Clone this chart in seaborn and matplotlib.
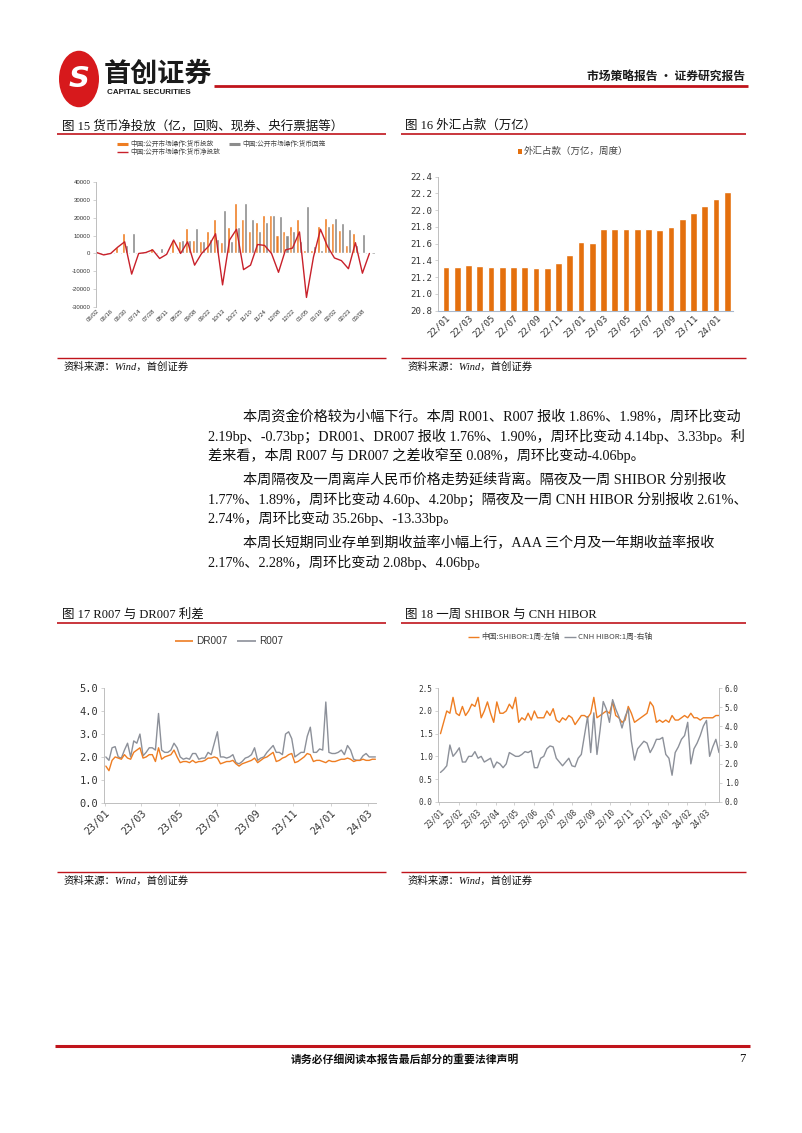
import numpy as np
import pandas as pd
import matplotlib
matplotlib.use('Agg')
import matplotlib.pyplot as plt
import matplotlib.dates as mdates
from matplotlib.patches import Circle, Rectangle
from matplotlib.lines import Line2D
import seaborn as sns

# ---------------- data ----------------
# Fig 15: weekly open market operations (亿)
omo_dates = ['06/02', '06/09', '06/16', '06/23', '06/30', '07/07', '07/14', '07/21', '07/28', '08/04',
             '08/11', '08/18', '08/25', '09/01', '09/08', '09/15', '09/22', '10/08', '10/13', '10/20',
             '10/27', '11/03', '11/10', '11/17', '11/24', '12/01', '12/08', '12/15', '12/22', '12/29',
             '01/05', '01/12', '01/19', '01/26', '02/02', '02/09', '02/23', '03/01', '03/08', '03/15']
omo_inject = [0, 0, 0, 3500, 11500, 0, 0, 500, 3000, 0,
              0, 7500, 7000, 14000, 7500, 7000, 12500, 19000, 6500, 14500,
              28000, 19000, 12500, 17500, 21500, 21500, 10500, 12500, 15500, 19000,
              2000, 2000, 15500, 19500, 17000, 13000, 5000, 11500, 0, 0]
omo_withdraw = [0, 500, 0, 0, 5000, 11500, 0, 0, 1000, 3000,
                500, 0, 7500, 7500, 14000, 7000, 8000, 8000, 24000, 7000,
                14500, 28000, 19000, 12500, 17500, 21500, 21000, 10500, 12500, 7000,
                26500, 4000, 2000, 15500, 19500, 17000, 13500, 5000, 11000, 500]
omo_net = [500, -800, 0, 3500, 6500, -11500, 0, 500, 2000, -2800,
           -500, 7500, 0, 6500, -6500, 0, 4000, 11000, -17500, 7500,
           13500, -9000, -6500, 5000, 4500, 0, -10500, 2000, 3000, 12000,
           -24500, -2000, 13500, 4000, -2500, -4000, -8500, 6000, -11000, 0]

# Fig 16: FX reserves position (万亿)
fx_months = ['22/01', '22/02', '22/03', '22/04', '22/05', '22/06', '22/07', '22/08', '22/09', '22/10',
             '22/11', '22/12', '23/01', '23/02', '23/03', '23/04', '23/05', '23/06', '23/07', '23/08',
             '23/09', '23/10', '23/11', '23/12', '24/01', '24/02']
fx_values = [21.32, 21.32, 21.35, 21.33, 21.32, 21.32, 21.32, 21.32, 21.31, 21.31,
             21.37, 21.46, 21.62, 21.61, 21.78, 21.78, 21.78, 21.77, 21.78, 21.76,
             21.80, 21.89, 21.97, 22.05, 22.13, 22.22]

# Fig 17: R007 / DR007 (%), sampled every 5 days from 2023-01-03
r007 = [2.0, 1.85, 2.4, 2.45, 2.0, 1.95, 2.3, 2.6, 2.0, 2.7,
        2.6, 3.0, 2.05, 2.2, 2.4, 2.4, 2.3, 3.9, 2.3, 2.2,
        2.2, 2.3, 2.6, 2.4, 2.0, 1.9, 1.95, 1.9, 2.15, 2.15,
        1.9, 1.95, 1.95, 2.2, 2.1, 2.6, 3.1, 2.0, 2.0, 1.95,
        2.0, 2.1, 1.75, 1.7, 1.8, 1.95, 2.0, 2.1, 2.4, 1.85,
        1.95, 2.0, 2.2, 2.35, 2.5, 2.2, 2.2, 2.1, 3.0, 3.1,
        2.8, 2.0, 2.1, 2.2, 2.2, 2.9, 3.3, 2.2, 2.2, 2.35,
        2.3, 4.4, 2.2, 2.15, 2.15, 2.2, 2.3, 2.1, 2.5, 2.3,
        1.9, 1.85, 1.85, 2.05, 2.15, 2.0, 2.0, 2.0]
dr007 = [1.6, 1.4, 1.85, 2.0, 1.95, 1.9, 2.1, 1.95, 1.9, 2.2,
         2.3, 2.4, 1.95, 2.0, 2.1, 2.1, 1.8, 2.4, 1.9, 2.0,
         2.05, 2.1, 2.3, 2.0, 1.75, 1.8, 1.8, 1.75, 1.85, 1.75,
         1.8, 1.8, 1.85, 1.95, 1.95, 2.0, 1.95, 1.7, 1.75, 1.8,
         1.8, 1.85, 1.7, 1.6, 1.7, 1.75, 1.8, 1.85, 1.95, 1.75,
         1.85, 1.95, 2.0, 2.1, 2.2, 1.8, 1.85, 1.95, 2.0, 2.1,
         2.15, 1.75, 1.8, 1.9, 2.0, 2.15, 2.1, 1.8, 1.85, 1.85,
         1.8, 1.75, 1.85, 1.8, 1.8, 1.85, 1.9, 1.9, 1.95, 1.9,
         1.8, 1.85, 1.85, 1.9, 1.85, 1.85, 1.9, 1.9]

# Fig 18: SHIBOR 1W (left) / CNH HIBOR 1W (right), every 5 days from 2023-01-03
shibor_1w = [1.5, 1.75, 2.0, 1.95, 2.3, 1.95, 1.9, 2.1, 1.9, 2.0,
             2.15, 2.1, 2.3, 1.85, 2.0, 2.2, 1.95, 1.75, 2.2, 1.95,
             1.95, 2.0, 2.15, 2.05, 2.3, 1.75, 1.85, 1.8, 1.95, 1.8,
             2.0, 1.85, 1.85, 1.85, 2.0, 1.9, 2.05, 1.8, 1.75, 1.85,
             1.8, 1.9, 1.85, 1.7, 1.8, 1.9, 1.9, 1.85, 1.95, 2.3,
             1.85, 1.9, 1.95, 2.0, 1.95, 2.2, 1.9, 1.85, 1.75, 1.8,
             2.1, 1.95, 1.75, 1.8, 1.85, 1.9, 1.95, 2.2, 2.1, 1.75,
             1.8, 1.75, 1.8, 1.75, 1.9, 1.8, 1.8, 1.85, 1.9, 1.85,
             1.95, 1.85, 1.85, 1.8, 1.85, 1.85, 1.85, 1.85, 1.9, 1.9]
cnh_hibor_1w = [1.55, 1.7, 1.9, 3.0, 2.4, 2.6, 2.85, 2.1, 2.1, 2.4,
                2.4, 2.65, 2.3, 2.4, 2.1, 2.2, 2.3, 1.8, 2.1, 2.0,
                1.8, 2.0, 2.6, 2.5, 2.4, 2.4, 2.5, 2.65, 2.6, 2.7,
                1.8, 1.8, 2.3, 2.4, 2.8, 2.95, 2.9, 2.3, 2.1, 1.9,
                2.1, 2.3, 1.9, 1.85, 2.3, 2.5, 3.5, 4.5, 2.6, 4.7,
                2.5, 3.8, 5.3, 4.9, 4.2, 5.4, 4.9, 4.5, 3.9, 4.5,
                4.9, 3.2, 2.2, 2.8, 3.0, 3.2, 3.1, 2.6, 2.9, 3.3,
                3.3, 3.4, 2.5, 2.3, 1.4, 2.6, 2.9, 3.3, 3.5, 4.2,
                2.0, 2.8, 3.1, 3.5, 4.0, 4.3, 2.4, 2.9, 3.3, 2.6]

# ---------------- setup ----------------
sns.set_theme(style='white')
plt.rcParams['font.family'] = ['Liberation Sans', 'Noto Sans CJK SC', 'DejaVu Sans']
plt.rcParams['axes.unicode_minus'] = False

W, H = 802, 1133
fig = plt.figure(figsize=(W / 100, H / 100), dpi=100)
fig.patch.set_facecolor('white')


def fx(x):
    return x / W


def fy(y):
    return 1 - y / H


def ax_rect(x0, y0, x1, y1):
    return [fx(x0), fy(y1), (x1 - x0) / W, (y1 - y0) / H]


def hline(x0, x1, y, color, lw):
    fig.add_artist(Line2D([fx(x0), fx(x1)], [fy(y), fy(y)], transform=fig.transFigure,
                          color=color, lw=lw, solid_capstyle='butt'))


RED = '#C0141B'
ORANGE = '#EE7D22'
ORANGE_BAR = '#E4700E'
GREY = '#8C8C8C'
LINEGREY = '#8C9099'
AXGREY = '#BFBFBF'
CJK = ['Noto Sans CJK SC', 'DejaVu Sans']
SERIF = ['Liberation Serif', 'Noto Sans CJK SC']
MONO = ['DejaVu Sans Mono']

# ---------------- header ----------------
fig.add_artist(Circle((fx(79), fy(79)), radius=20 / W, transform=fig.transFigure,
                      facecolor='#D7191C', edgecolor='none'))
fig.text(fx(79), fy(79), 'S', color='white', fontsize=21, fontweight='bold', style='italic',
         ha='center', va='center', family=['DejaVu Sans'])
fig.text(fx(104), fy(74), '首创证券', fontsize=19.5, fontweight='bold', family=CJK,
         ha='left', va='center', color='#1A1A1A')
fig.text(fx(107), fy(93), 'CAPITAL SECURITIES', fontsize=5.8, fontweight='bold',
         family=['Liberation Sans'], ha='left', va='center', color='#1A1A1A')
hline(214, 748, 86, RED, 2.0)
fig.text(fx(745), fy(76), '市场策略报告 · 证券研究报告', fontsize=8.5, fontweight='bold',
         family=CJK, ha='right', va='center', color='#1A1A1A')

# ---------------- figure titles ----------------
title_kw = dict(fontsize=9, family=SERIF, ha='left', va='center', color='#111111')
fig.text(fx(62), fy(126), '图 15 货币净投放（亿，回购、现券、央行票据等）', **title_kw)
fig.text(fx(405), fy(126), '图 16 外汇占款（万亿）', **title_kw)
hline(57, 386, 134, RED, 1.2)
hline(401, 746, 134, RED, 1.2)

fig.text(fx(62), fy(615), '图 17 R007 与 DR007 利差', **title_kw)
fig.text(fx(405), fy(615), '图 18 一周 SHIBOR 与 CNH HIBOR', **title_kw)
hline(57, 386, 623, RED, 1.2)
hline(401, 746, 623, RED, 1.2)

# source lines
src_kw = dict(fontsize=7.5, family=SERIF, style='italic', ha='left', va='center', color='#111111')
hline(57, 386, 358, RED, 1.0)
hline(401, 746, 358, RED, 1.0)
fig.text(fx(64), fy(367), '资料来源：Wind，首创证券', **src_kw)
fig.text(fx(408), fy(367), '资料来源：Wind，首创证券', **src_kw)
hline(57, 386, 872, RED, 1.0)
hline(401, 746, 872, RED, 1.0)
fig.text(fx(64), fy(881), '资料来源：Wind，首创证券', **src_kw)
fig.text(fx(408), fy(881), '资料来源：Wind，首创证券', **src_kw)

# ---------------- Fig 15 ----------------
n15 = len(omo_dates)
ax1 = fig.add_axes(ax_rect(96, 181.7, 375, 307.3))
df15 = pd.DataFrame({
    'idx': list(range(n15)) * 2,
    'val': omo_inject + omo_withdraw,
    'kind': ['中国:公开市场操作:货币投放'] * n15 + ['中国:公开市场操作:货币回笼'] * n15,
})
sns.barplot(data=df15, x='idx', y='val', hue='kind', palette=[ORANGE, GREY], width=0.86,
            dodge=True, saturation=1, errorbar=None, legend=False, ax=ax1)
ax1.axhline(0, color=AXGREY, lw=0.7, zorder=0)
sns.lineplot(x=np.arange(n15), y=omo_net, color='#C8202A', lw=1.0, ax=ax1, legend=False)
ax1.set_xlim(-0.1, 39.8)
ax1.set_ylim(-30000, 40000)
ax1.set_yticks(np.arange(-30000, 40001, 10000))
ax1.set_yticklabels([f'{v:d}' for v in range(-30000, 40001, 10000)], fontsize=4.3,
                    family=['Liberation Sans'], color='#333333')
ax1.set_xticks(np.arange(0, n15, 2))
ax1.set_xticklabels(omo_dates[::2], rotation=45, ha='right', rotation_mode='anchor',
                    fontsize=4.4, family=['Liberation Sans'], color='#333333')
ax1.set_xlabel('')
ax1.set_ylabel('')
for s in ['top', 'right', 'bottom']:
    ax1.spines[s].set_visible(False)
ax1.spines['left'].set_color(AXGREY)
ax1.spines['left'].set_linewidth(0.7)
ax1.tick_params(axis='y', left=True, length=2, width=0.5, color=AXGREY, pad=2)
ax1.tick_params(axis='x', bottom=False, length=0, pad=1)
ax1.set_facecolor('none')

# legend for fig 15
leg_kw = dict(fontsize=4.8, family=CJK, ha='left', va='center', color='#444444')
hline(117, 128, 144, ORANGE, 2.2)
fig.text(fx(130), fy(144), '中国:公开市场操作:货币投放', **leg_kw)
hline(229, 240, 144, GREY, 2.2)
fig.text(fx(242), fy(144), '中国:公开市场操作:货币回笼', **leg_kw)
hline(117, 128, 152, '#C8202A', 1.0)
fig.text(fx(130), fy(152), '中国:公开市场操作:货币净投放', **leg_kw)

# ---------------- Fig 16 ----------------
ax2 = fig.add_axes(ax_rect(438, 176.7, 733, 310.7))
sns.barplot(x=fx_months, y=fx_values, color=ORANGE_BAR, width=0.6, saturation=1,
            errorbar=None, ax=ax2)
ax2.set_xlim(-0.7, 25.5)
ax2.set_ylim(20.8, 22.4)
yt = np.round(np.arange(20.8, 22.41, 0.2), 1)
ax2.set_yticks(yt)
ax2.set_yticklabels([f'{v:.1f}' for v in yt], fontsize=6.6, family=MONO, color='#333333')
ax2.set_xticks(np.arange(0, 26, 2))
ax2.set_xticklabels(fx_months[::2], rotation=45, ha='right', rotation_mode='anchor',
                    fontsize=6.6, family=MONO, color='#333333')
for s in ['top', 'right']:
    ax2.spines[s].set_visible(False)
ax2.spines['left'].set_color(AXGREY)
ax2.spines['bottom'].set_color('#A9B8CC')
ax2.spines['left'].set_linewidth(0.7)
ax2.spines['bottom'].set_linewidth(0.8)
ax2.tick_params(axis='y', left=True, length=2, width=0.5, color=AXGREY, pad=2)
ax2.tick_params(axis='x', bottom=False, length=0, pad=2)
ax2.set_facecolor('none')

fig.add_artist(Rectangle((fx(517.5), fy(153.5)), 4.5 / W, 4.5 / H, transform=fig.transFigure,
                         facecolor=ORANGE_BAR, edgecolor='none'))
fig.text(fx(524), fy(151), '外汇占款（万亿，周度）', fontsize=6.8, family=CJK,
         ha='left', va='center', color='#444444')

# ---------------- Fig 17 ----------------
d17 = pd.date_range('2023-01-03', periods=len(r007), freq='5D')
ax3 = fig.add_axes(ax_rect(104, 688.3, 376, 802.7))
sns.lineplot(x=d17, y=r007, color=LINEGREY, lw=1.0, ax=ax3)
sns.lineplot(x=d17, y=dr007, color=ORANGE, lw=1.0, ax=ax3)
ax3.set_xlim(pd.Timestamp('2022-12-31'), pd.Timestamp('2024-03-14'))
ax3.set_ylim(0, 5)
ax3.set_yticks(np.arange(0, 5.01, 1))
ax3.set_yticklabels([f'{v:.1f}' for v in np.arange(0, 5.01, 1)], fontsize=7.5, family=MONO,
                    color='#333333')
ax3.xaxis.set_major_locator(mdates.MonthLocator(bymonth=[1, 3, 5, 7, 9, 11]))
ax3.xaxis.set_major_formatter(mdates.DateFormatter('%y/%m'))
plt.setp(ax3.get_xticklabels(), rotation=45, ha='right', rotation_mode='anchor',
         fontsize=7.3, family=MONO, color='#333333')
for s in ['top', 'right']:
    ax3.spines[s].set_visible(False)
for s in ['left', 'bottom']:
    ax3.spines[s].set_color(AXGREY)
    ax3.spines[s].set_linewidth(0.7)
ax3.tick_params(axis='y', left=True, length=2, width=0.5, color=AXGREY, pad=2)
ax3.tick_params(axis='x', bottom=True, length=2, width=0.5, color=AXGREY, pad=2)
ax3.set_xlabel('')
ax3.set_ylabel('')
ax3.set_facecolor('none')

hline(175, 193, 641, ORANGE, 1.2)
fig.text(fx(196), fy(641), 'DR007', fontsize=7.2, family=['Liberation Sans'], ha='left',
         va='center', color='#333333')
hline(237, 256, 641, LINEGREY, 1.2)
fig.text(fx(259), fy(641), 'R007', fontsize=7.2, family=['Liberation Sans'], ha='left',
         va='center', color='#333333')

# ---------------- Fig 18 ----------------
d18 = pd.date_range('2023-01-03', periods=len(shibor_1w), freq='5D')
ax4 = fig.add_axes(ax_rect(438, 688.3, 719, 801.7))
sns.lineplot(x=d18, y=shibor_1w, color=ORANGE, lw=1.0, ax=ax4)
ax4r = ax4.twinx()
sns.lineplot(x=d18, y=cnh_hibor_1w, color=LINEGREY, lw=1.0, ax=ax4r)
for a in (ax4, ax4r):
    a.set_xlim(pd.Timestamp('2022-12-30'), pd.Timestamp('2024-03-23'))
    a.set_xlabel('')
    a.set_ylabel('')
    a.set_facecolor('none')
    a.spines['top'].set_visible(False)
ax4.set_ylim(0, 2.5)
ax4r.set_ylim(0, 6.0)
lt = np.arange(0, 2.51, 0.5)
rt = np.arange(0, 6.01, 1.0)
ax4.set_yticks(lt)
ax4.set_yticklabels([f'{v:.1f}' for v in lt], fontsize=5.6, family=MONO, color='#333333')
ax4r.set_yticks(rt)
ax4r.set_yticklabels([f'{v:.1f}' for v in rt], fontsize=5.6, family=MONO, color='#333333')
ax4.xaxis.set_major_locator(mdates.MonthLocator())
ax4.xaxis.set_major_formatter(mdates.DateFormatter('%y/%m'))
plt.setp(ax4.get_xticklabels(), rotation=45, ha='right', rotation_mode='anchor',
         fontsize=5.6, family=MONO, color='#333333')
ax4.spines['right'].set_visible(False)
for s in ['left', 'bottom']:
    ax4.spines[s].set_color(AXGREY)
    ax4.spines[s].set_linewidth(0.7)
ax4r.spines['right'].set_color(AXGREY)
ax4r.spines['right'].set_linewidth(0.7)
ax4r.spines['left'].set_visible(False)
ax4r.spines['bottom'].set_visible(False)
ax4.tick_params(axis='y', left=True, length=2, width=0.5, color=AXGREY, pad=2)
ax4.tick_params(axis='x', bottom=True, length=2, width=0.5, color=AXGREY, pad=2)
ax4r.tick_params(axis='y', right=True, length=2, width=0.5, color=AXGREY, pad=2)

leg18 = dict(fontsize=5.6, family=CJK, ha='left', va='center', color='#444444')
hline(468, 479, 637, ORANGE, 1.0)
fig.text(fx(481), fy(637), '中国:SHIBOR:1周-左轴', **leg18)
hline(564, 576, 637, LINEGREY, 1.0)
fig.text(fx(578), fy(637), 'CNH HIBOR:1周-右轴', **leg18)

# ---------------- body text ----------------
body_kw = dict(fontsize=10.2, family=SERIF, ha='left', va='center', color='#111111')
body_lines = [
    (243, 417, '本周资金价格较为小幅下行。本周 R001、R007 报收 1.86%、1.98%，周环比变动'),
    (208, 436, '2.19bp、-0.73bp；DR001、DR007 报收 1.76%、1.90%，周环比变动 4.14bp、3.33bp。利'),
    (208, 455, '差来看，本周 R007 与 DR007 之差收窄至 0.08%，周环比变动-4.06bp。'),
    (243, 480, '本周隔夜及一周离岸人民币价格走势延续背离。隔夜及一周 SHIBOR 分别报收'),
    (208, 499, '1.77%、1.89%，周环比变动 4.60p、4.20bp；隔夜及一周 CNH HIBOR 分别报收 2.61%、'),
    (208, 518, '2.74%，周环比变动 35.26bp、-13.33bp。'),
    (243, 543, '本周长短期同业存单到期收益率小幅上行，AAA 三个月及一年期收益率报收'),
    (208, 562, '2.17%、2.28%，周环比变动 2.08bp、4.06bp。'),
]
for x, y, s in body_lines:
    fig.text(fx(x), fy(y), s, **body_kw)

# ---------------- footer ----------------
hline(55, 750, 1046, RED, 2.2)
fig.text(fx(405), fy(1059), '请务必仔细阅读本报告最后部分的重要法律声明', fontsize=7.8,
         fontweight='bold', family=CJK, ha='center', va='center', color='#111111')
fig.text(fx(746), fy(1059), '7', fontsize=9, family=SERIF, ha='right', va='center',
         color='#111111')

fig.savefig('out.png', dpi=100, facecolor='white')
